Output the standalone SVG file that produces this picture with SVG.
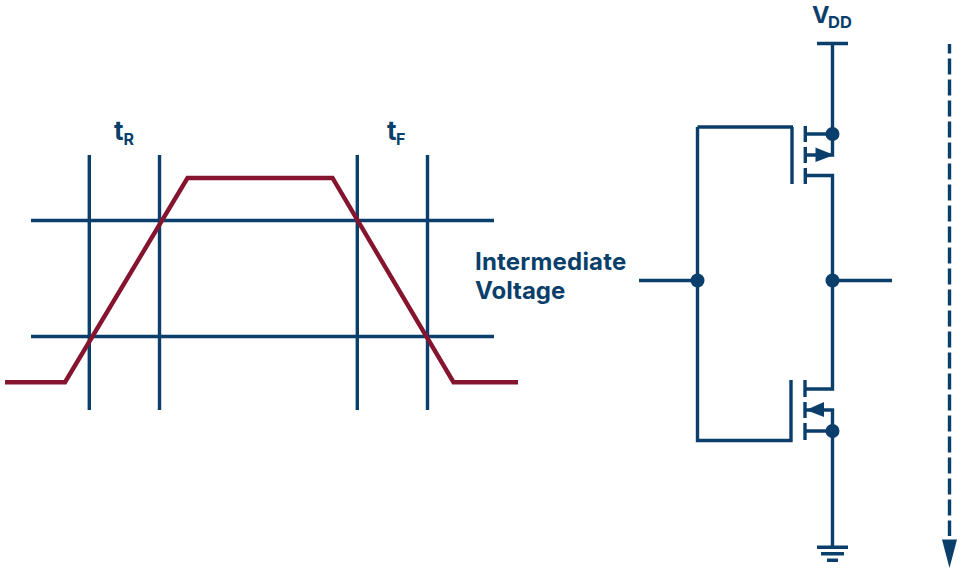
<svg xmlns="http://www.w3.org/2000/svg" width="962" height="571" viewBox="0 0 962 571">
<defs><style>
.b{fill:none;stroke:#0b3f6b;stroke-width:3.4;stroke-linecap:butt;stroke-linejoin:miter}
.r{fill:none;stroke:#85142f;stroke-width:4.4;stroke-linejoin:miter}
.d{fill:#0b3f6b}
.t{font-family:"Inter","Liberation Sans",sans-serif;font-weight:700;fill:#0b3f6b}
</style></defs>
<rect width="962" height="571" fill="#ffffff"/>
<g id="connectors">
<path class="b" d="M89.300 155V410M159.500 155V410M357.300 155V410M427.500 155V410M31 220.500H494M31 336.500H494"/>
<path class="r" d="M5 382.200H65L187.500 178H332.500L453.500 382.200H518"/>
<path class="b" d="M832.500 43.500V134M817 43.500H848"/>
<path class="b" d="M806 134H832.500V155H806"/>
<path class="b" d="M805.500 175.500H832.500V389H805.500"/>
<path class="b" d="M806 410H832.500V431M806 431H832.500V547"/>
<path class="b" d="M639 280.500H697.500M832.500 280.500H892"/>
<path class="b" d="M697.500 127H793M697.500 127V440.500H792.500M791 442V380"/>
<path class="b" d="M792 127V184"/>
<path class="b" d="M805.300 126V142M805.300 147V163M805.300 168V184"/>
<path class="b" d="M805 380V397M805 402V418M805 423V440"/>
<path class="b" d="M817 547.300H848M821 553.700H844M827 560.300H838"/>
<path class="b" d="M949.500 44V536" stroke-dasharray="16 5" stroke-dashoffset="6.500"/>
</g>
<g id="dots">
<circle class="d" cx="832.500" cy="134" r="7"/>
<circle class="d" cx="832.500" cy="431" r="7"/>
<circle class="d" cx="697.500" cy="280.500" r="7"/>
<circle class="d" cx="832.500" cy="280.500" r="7"/>
<path class="d" d="M815.500 147.500L834 155L815.500 162Z"/>
<path class="d" d="M824 402V417L806 410Z"/>
<path class="d" d="M942 539.500H957L949.500 568Z"/>
</g>
<g id="labels">
<text class="t" x="114" y="139.500" font-size="26">t</text>
<text class="t" x="123.500" y="145" font-size="16">R</text>
<text class="t" x="387" y="139.500" font-size="26">t</text>
<text class="t" x="396" y="145" font-size="16">F</text>
<text class="t" x="812" y="23" font-size="23.500">V</text>
<text class="t" x="828" y="28" font-size="16.500">DD</text>
<text class="t" x="475" y="270" font-size="24" letter-spacing=".2">Intermediate</text>
<text class="t" x="475" y="299" font-size="24">Voltage</text>
</g>
</svg>
